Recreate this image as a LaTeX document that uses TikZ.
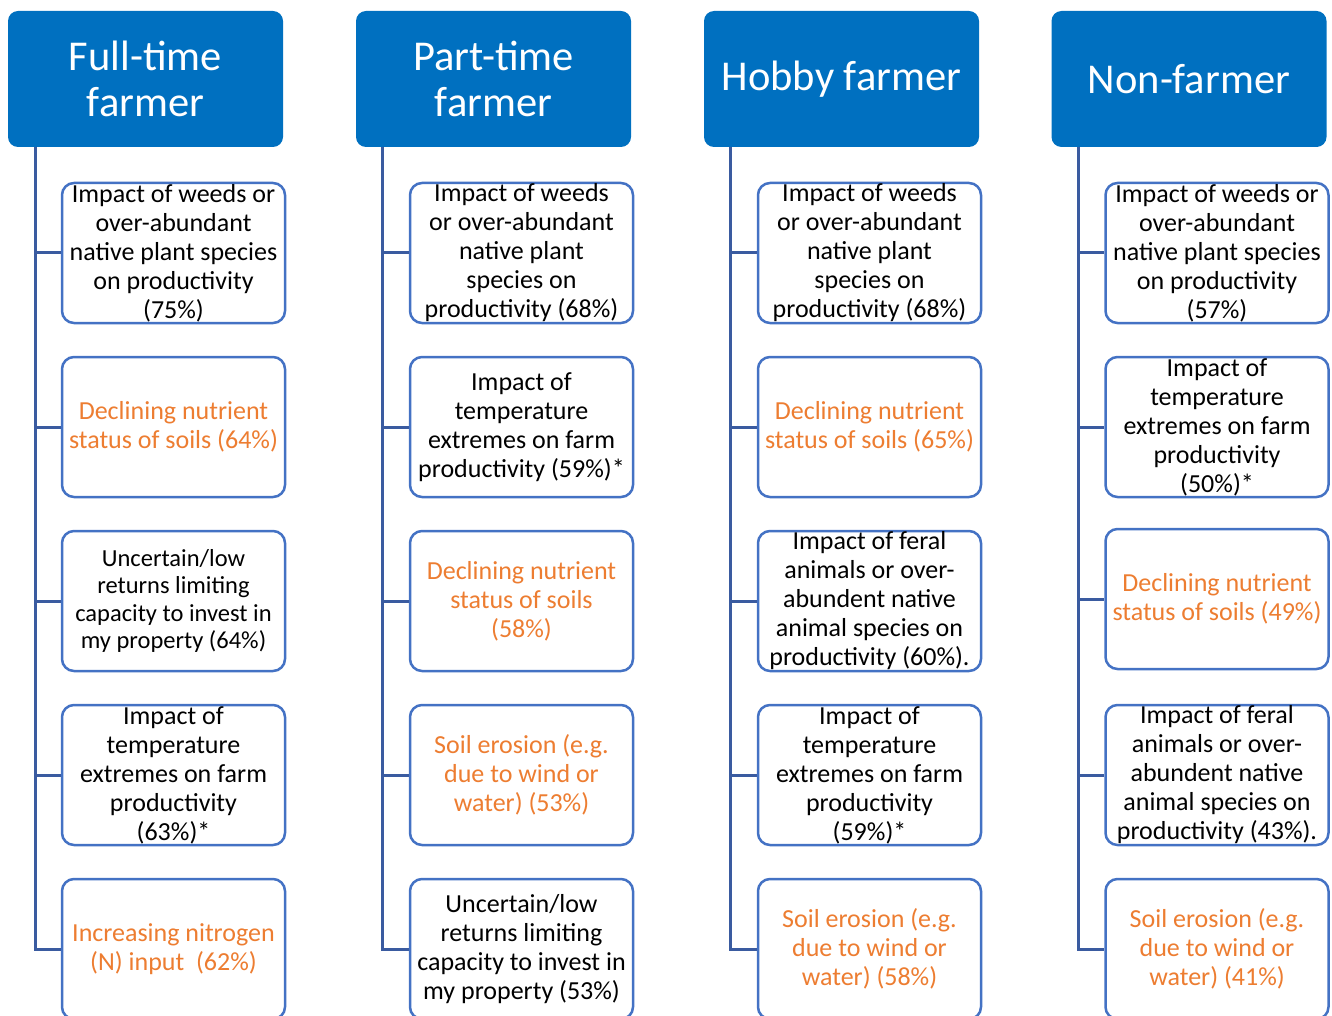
\documentclass[tikz,border=0pt]{standalone}
\usepackage{fontspec}
\setmainfont{Carlito}
\definecolor{hdr}{HTML}{0070C0}
\definecolor{conn}{HTML}{3A5BA0}
\definecolor{bord}{HTML}{4472C4}
\definecolor{orng}{HTML}{ED7D31}
\tikzset{
  header/.style={draw=none, fill=hdr, rounded corners=10pt, minimum width=275pt, minimum height=136pt,
    text=white, align=center, font=\fontsize{42.5}{46}\selectfont, inner sep=0pt},
  item/.style={draw=bord, line width=2.5pt, fill=white, rounded corners=12pt, minimum width=223pt,
    minimum height=140pt, align=center, font=\fontsize{26}{29}\selectfont, inner sep=0pt, text=black},
  warn/.style={item, text=orng},
  small/.style={font=\fontsize{24.5}{27.5}\selectfont},
  link/.style={draw=conn, line width=3pt},
}
\begin{document}
\begin{tikzpicture}[x=1pt, y=-1pt]
\useasboundingbox (0,0) rectangle (1332,1016);
\clip (0,0) rectangle (1332,1016);
% headers
\node[header] (h1) at (145.5,79) {Full-time\\farmer};
\node[header] (h2) at (493.5,79) {Part-time\\farmer};
\node[header] (h3) at (841.5,79) {Hobby farmer};
\node[header] (h4) at (1189,79) {Non-farmer};
% spine tops
\coordinate (s1) at (35,147);
\coordinate (s2) at (382,147);
\coordinate (s3) at (730,147);
\coordinate (s4) at (1078,147);
% column 1
\node[item] (c11) at (173.5,253) {Impact of weeds or\\over-abundant\\native plant species\\on productivity\\(75\%)};
\node[warn] (c12) at (173.5,427) {Declining nutrient\\status of soils (64\%)};
\node[item, small] (c13) at (173.5,601) {Uncertain/low\\returns limiting\\capacity to invest in\\my property (64\%)};
\node[item] (c14) at (173.5,775) {Impact of\\temperature\\extremes on farm\\productivity\\(63\%)*};
\node[warn] (c15) at (173.5,949) {Increasing nitrogen\\(N) input~~(62\%)};
% column 2
\node[item] (c21) at (521.5,253) {Impact of weeds\\or over-abundant\\native plant\\species on\\productivity (68\%)};
\node[item] (c22) at (521.5,427) {Impact of\\temperature\\extremes on farm\\productivity (59\%)*};
\node[warn] (c23) at (521.5,601) {Declining nutrient\\status of soils\\(58\%)};
\node[warn] (c24) at (521.5,775) {Soil erosion (e.g.\\due to wind or\\water) (53\%)};
\node[item] (c25) at (521.5,949) {Uncertain/low\\returns limiting\\capacity to invest in\\my property (53\%)};
% column 3
\node[item] (c31) at (869.5,253) {Impact of weeds\\or over-abundant\\native plant\\species on\\productivity (68\%)};
\node[warn] (c32) at (869.5,427) {Declining nutrient\\status of soils (65\%)};
\node[item] (c33) at (869.5,601) {Impact of feral\\animals or over-\\abundent native\\animal species on\\productivity (60\%).};
\node[item] (c34) at (869.5,775) {Impact of\\temperature\\extremes on farm\\productivity\\(59\%)*};
\node[warn] (c35) at (869.5,949) {Soil erosion (e.g.\\due to wind or\\water) (58\%)};
% column 4
\node[item] (c41) at (1217,253) {Impact of weeds or\\over-abundant\\native plant species\\on productivity\\(57\%)};
\node[item] (c42) at (1217,427) {Impact of\\temperature\\extremes on farm\\productivity\\(50\%)*};
\node[warn] (c43) at (1217,599) {Declining nutrient\\status of soils (49\%)};
\node[item] (c44) at (1217,775) {Impact of feral\\animals or over-\\abundent native\\animal species on\\productivity (43\%).};
\node[warn] (c45) at (1217,949) {Soil erosion (e.g.\\due to wind or\\water) (41\%)};
% connectors
\foreach \c in {1,2,3,4}{
  \foreach \r in {1,2,3,4,5}{
    \draw[link] (s\c) |- (c\c\r.west);
  }
}
\end{tikzpicture}
\end{document}
